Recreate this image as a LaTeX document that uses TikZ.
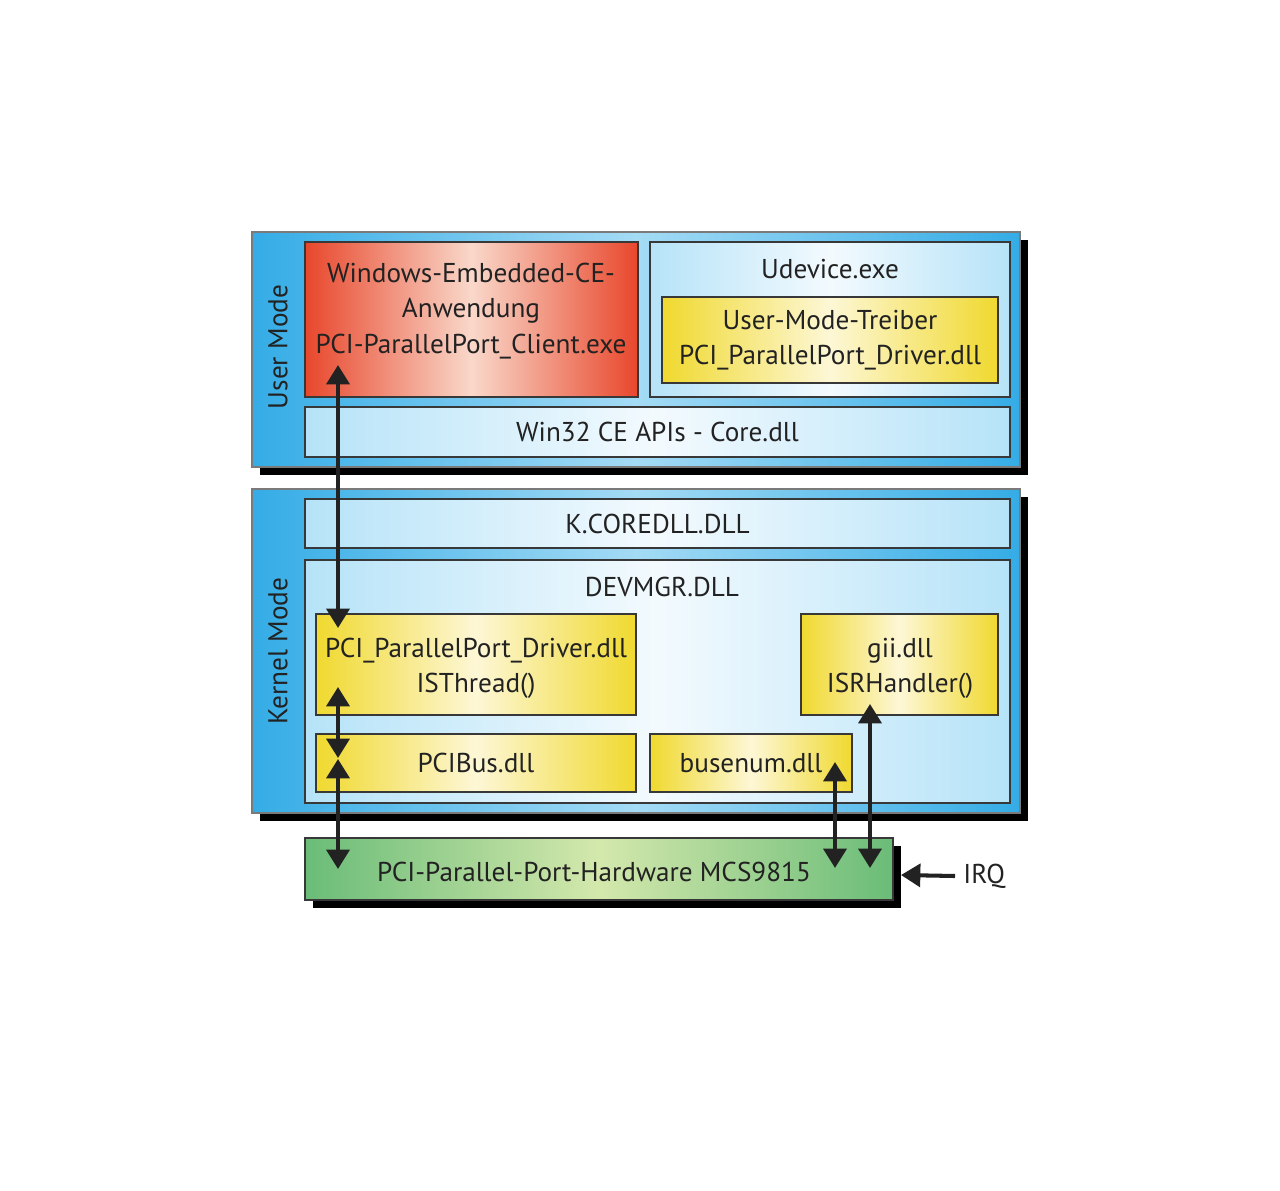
\documentclass[tikz,border=0pt]{standalone}
\usepackage{fontspec}
\setmainfont{PT Sans}
\usetikzlibrary{arrows.meta,shadows}
\definecolor{ink}{HTML}{222222}
\definecolor{edge}{HTML}{383838}
\definecolor{paneledge}{HTML}{7A7A7A}
\definecolor{bluedk}{HTML}{34ACE6}
\definecolor{bluemd}{HTML}{A4DBF5}
\definecolor{bluelt}{HTML}{B6E3F8}
\definecolor{bluewh}{HTML}{F3FAFE}
\definecolor{reddk}{HTML}{E8472C}
\definecolor{redlt}{HTML}{F9D8CA}
\definecolor{yeldk}{HTML}{F0D92F}
\definecolor{yellt}{HTML}{FDF7D6}
\definecolor{grndk}{HTML}{6ABC78}
\definecolor{grnlt}{HTML}{D4E8AC}

\tikzset{
  px/.style 2 args={minimum width=#1*0.02cm,minimum height=#2*0.02cm},
  shd/.style={drop shadow={shadow xshift=4.5pt,shadow yshift=-4.5pt,fill=black,opacity=1}},
  box/.style={draw=edge,line width=1.1pt,anchor=north west,inner sep=0pt,outer sep=0pt,
    align=center,text=ink,font=\fontsize{15.5}{20}\selectfont},
  panel/.style={box,draw=paneledge,shd,left color=bluedk,right color=bluedk,middle color=bluemd},
  lightbox/.style={box,left color=bluelt,right color=bluelt,middle color=bluewh},
  appbox/.style={box,left color=reddk,right color=reddk,middle color=redlt},
  drvbox/.style={box,left color=yeldk,right color=yeldk,middle color=yellt},
  hwbox/.style={box,shd,left color=grndk,right color=grndk,middle color=grnlt},
  lbl/.style={text=ink,font=\fontsize{15.5}{20}\selectfont,inner sep=0pt,align=center},
  biarr/.style={{Triangle[width=13pt,length=11pt]}-{Triangle[width=13pt,length=11pt]},
    line width=2.3pt,draw=ink},
  onearr/.style={-{Triangle[width=13pt,length=11pt]},line width=2.3pt,draw=ink}
}

\begin{document}
\begin{tikzpicture}[x=0.02cm,y=-0.02cm]
  \useasboundingbox[fill=white] (0,0) rectangle (1280,1190);

  % user mode
  \node[panel,px={768}{235}] (user) at (252,232) {};
  \node[lbl,rotate=90] (userlbl) at (278,347) {User Mode};
  \node[appbox,px={333}{155}] (app) at (305,242) {};
  \node[lbl] (apptxt) at (471,311)
    {Windows-Embedded-CE-\\Anwendung\\PCI-ParallelPort\_Client.exe};
  \node[lightbox,px={360}{155}] (udev) at (650,242) {};
  \node[lbl] (udevlbl) at (830,269) {Udevice.exe};
  \node[drvbox,px={336}{86}] (umd) at (662,297)
    {User-Mode-Treiber\\PCI\_ParallelPort\_Driver.dll};
  \node[lightbox,px={705}{50}] (win32) at (305,407) {Win32 CE APIs - Core.dll};

  % kernel mode
  \node[panel,px={768}{324}] (kernel) at (252,489) {};
  \node[lbl,rotate=90] (kernellbl) at (278,651) {Kernel Mode};
  \node[lightbox,px={705}{49}] (kcore) at (305,499) {K.COREDLL.DLL};
  \node[lightbox,px={705}{243}] (devmgr) at (305,560) {};
  \node[lbl] (devmgrlbl) at (662,587) {DEVMGR.DLL};
  \node[drvbox,px={320}{101}] (pcidrv) at (316,614) {};
  \node[lbl] (pcidrvtxt) at (476,668) {PCI\_ParallelPort\_Driver.dll\\ISThread()};
  \node[drvbox,px={197}{101}] (gii) at (801,614) {};
  \node[lbl] (giitxt) at (900,668) {gii.dll\\ISRHandler()};
  \node[drvbox,px={320}{58}] (pcibus) at (316,734) {PCIBus.dll};
  \node[drvbox,px={202}{58}] (busenum) at (650,734) {busenum.dll};

  % hardware
  \node[hwbox,px={588}{62}] (hw) at (305,838) {};
  \node[lbl] (hwtxt) at (594,872) {PCI-Parallel-Port-Hardware MCS9815};
  \node[lbl,anchor=west] (irq) at (963,876) {IRQ};

  \draw[biarr] ([shift={(33,-32)}]app.south west) -- ([shift={(22,14)}]pcidrv.north west);
  \draw[biarr] ([shift={(22,-28)}]pcidrv.south west) -- ([shift={(22,24)}]pcibus.north west);
  \draw[biarr] ([shift={(22,25)}]pcibus.north west) -- ([shift={(33,31)}]hw.north west);
  \draw[biarr] ([shift={(185,28)}]busenum.north west) -- ([shift={(530,30)}]hw.north west);
  \draw[biarr] ([shift={(69,-11)}]gii.south west) -- ([shift={(565,30)}]hw.north west);
  \draw[onearr] (irq.west) ++(-8,0) -- ([shift={(8,6)}]hw.east);
\end{tikzpicture}
\end{document}
